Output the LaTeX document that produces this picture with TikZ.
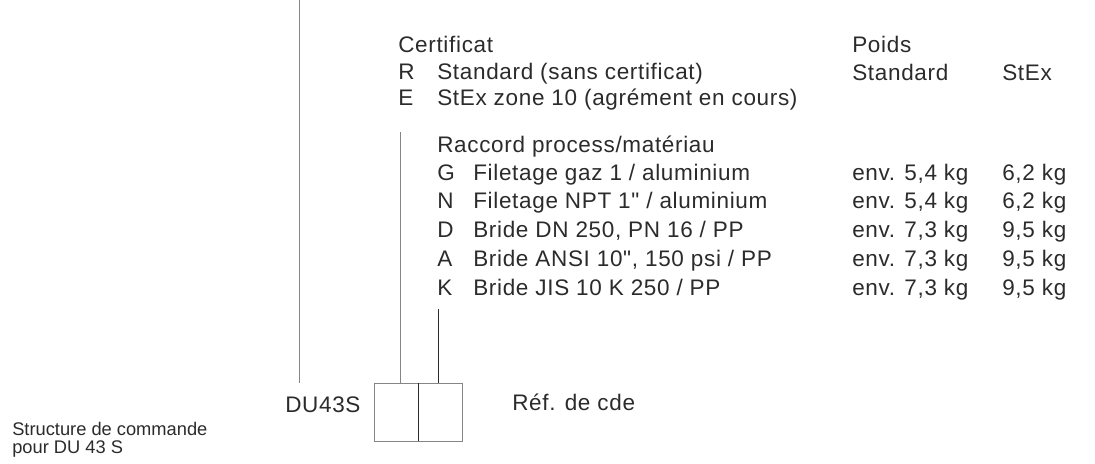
\documentclass[tikz,border=0pt]{standalone}
\usepackage{fontspec}
\setmainfont{Liberation Sans}
\newfontfamily\widefont{Liberation Sans}[LetterSpace=3]
\usepackage{xcolor}
\definecolor{inkgray}{HTML}{2B2B2B}
\definecolor{rulegray}{HTML}{858585}

\begin{document}
\begin{tikzpicture}[x=0.025cm, y=-0.025cm,
  txt/.style={anchor=base west, inner sep=0pt, text=inkgray, font=\widefont\fontsize{16}{16}\selectfont},
  small/.style={anchor=base west, inner sep=0pt, text=inkgray, font=\fontsize{13}{13}\selectfont},
  cell/.style={draw=rulegray, line width=0.7pt, inner sep=0pt, outer sep=0pt, minimum height=1.45cm},
  grayline/.style={draw=rulegray, line width=0.7pt},
  darkline/.style={draw=inkgray, line width=0.7pt}]
  \useasboundingbox (0,0) rectangle (1095,463);

  % certificat
  \node[txt] (cert) at (398,52) {Certificat};
  \node[txt] (certR) at (398,79) {R};
  \node[txt] (certRtxt) at (437,79) {Standard (sans certificat)};
  \node[txt] (certE) at (398,105) {E};
  \node[txt] (certEtxt) at (437,105) {StEx zone 10 (agrément en cours)};

  % poids
  \node[txt] (poids) at (852,52) {Poids};
  \node[txt] (wstd) at (852,80) {Standard};
  \node[txt] (wstex) at (1002,80) {StEx};

  % raccord process
  \node[txt] (rac) at (437,152) {Raccord process/matériau};
  \foreach \code/\desc/\kgstd/\kgex [count=\i] in {
      G/{Filetage gaz 1 / aluminium}/{5,4}/{6,2},
      N/{Filetage NPT 1\char34{} / aluminium}/{5,4}/{6,2},
      D/{Bride DN 250, PN 16 / PP}/{7,3}/{9,5},
      A/{Bride ANSI 10\char34, 150 psi / PP}/{7,3}/{9,5},
      K/{Bride JIS 10 K 250 / PP}/{7,3}/{9,5}} {
    \node[txt] (code\i) at (437,{180+28.75*(\i-1)}) {\code};
    \node[txt] (desc\i) at (473,{180+28.75*(\i-1)}) {\desc};
    \node[txt] (std\i) at (852,{180+28.75*(\i-1)}) {env. \kgstd\ kg};
    \node[txt] (ex\i) at (1002,{180+28.75*(\i-1)}) {\kgex\ kg};
  }

  % order code boxes
  \node[cell, minimum width=1.0875cm] (cellA) at (396.5,412) {};
  \node[cell, minimum width=1.1cm, anchor=west] (cellB) at (cellA.east) {};
  \draw[darkline] (cellA.north east) -- (cellA.south east);
  \node[txt] (du) at (285,412) {DU43S};
  \node[txt] (ref) at (512,410) {Réf. de cde};

  \coordinate (topline) at (299,0);
  \coordinate (certfoot) at (400,132);
  \coordinate (racfoot) at (438,309);
  \draw[grayline] (topline) -- (topline |- cellA.north);
  \draw[grayline] (certfoot) -- (certfoot |- cellA.north);
  \draw[darkline] (racfoot) -- (racfoot |- cellB.north);

  \node[small] (struct1) at (12,435) {Structure de commande};
  \node[small] (struct2) at (12,453) {pour DU 43 S};
\end{tikzpicture}
\end{document}
